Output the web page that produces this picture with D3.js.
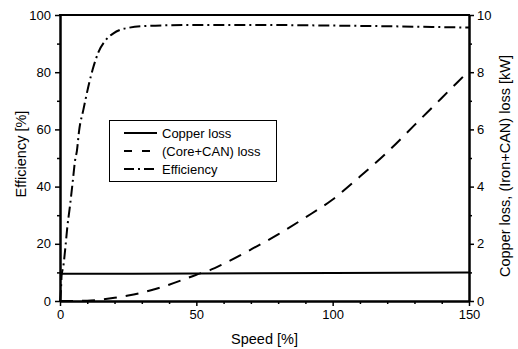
<!DOCTYPE html>
<html>
<head>
<meta charset="utf-8">
<script src="https://cdn.jsdelivr.net/npm/d3@7"></script>
<style>
  html, body { margin: 0; padding: 0; background: #fff; }
  svg { display: block; font-family: "Liberation Sans", Arial, sans-serif; }
</style>
</head>
<body>
<svg id="chart" width="518" height="349"></svg>
<script>
// ---- data ----
const speedTicks = [0, 50, 100, 150];
const speedMinorTicks = [10, 20, 30, 40, 60, 70, 80, 90, 110, 120, 130, 140];
const effTicks = [0, 20, 40, 60, 80, 100];
const effMinorTicks = [10, 30, 50, 70, 90];
const lossTicks = [0, 2, 4, 6, 8, 10];
const lossMinorTicks = [1, 3, 5, 7, 9];

const effSpeed = [0, 0.4, 0.6, 1.2, 2, 2.7, 3.5, 4.7, 5.5, 6.2, 7, 8.6, 10.4, 12, 14.1, 16.6, 19.6, 22, 25, 30, 40, 50, 60, 75, 100, 125, 150];
const effValue = [0, 5, 9, 12, 19, 26, 32, 42, 49, 52.5, 59.5, 67, 75, 81, 87, 91, 93.6, 94.8, 95.5, 96.1, 96.4, 96.5, 96.5, 96.5, 96.3, 96.0, 95.6];

const copperSpeed = [0, 50, 100, 150];
const copperLoss = [0.95, 0.96, 0.98, 1.0];

const coreSpeed = [0, 10, 15, 20, 25, 30, 35, 40, 45, 50, 55, 60, 70, 80, 90, 100, 110, 120, 130, 140, 150];
const coreLoss = [0, 0.01, 0.05, 0.11, 0.19, 0.29, 0.42, 0.57, 0.74, 0.92, 1.08, 1.3, 1.8, 2.33, 2.92, 3.55, 4.35, 5.2, 6.15, 7.1, 8.05];

const legendLabels = ["Copper loss", "(Core+CAN) loss", "Efficiency"];

// ---- layout ----
const svg = d3.select("#chart");
const L = 60, R = 469, T = 15, B = 301;

const x = d3.scaleLinear().domain([0, 150]).range([L, R]);
const yL = d3.scaleLinear().domain([0, 100]).range([B, T]);
const yR = d3.scaleLinear().domain([0, 10]).range([B, T]);

const styleAxis = g => {
  g.selectAll("path.domain").attr("stroke", "#000").attr("stroke-width", 2);
  g.selectAll(".tick line").attr("stroke", "#000").attr("stroke-width", 1.5);
  g.selectAll(".tick text").attr("fill", "#000").style("font-size", "13px")
    .style("font-family", '"Liberation Sans", Arial, sans-serif');
};

// minor ticks
svg.append("g").attr("transform", `translate(0,${B})`)
  .call(d3.axisBottom(x).tickValues(speedMinorTicks).tickSize(3).tickSizeOuter(0).tickFormat(""))
  .call(styleAxis);
svg.append("g").attr("transform", `translate(${L},0)`)
  .call(d3.axisLeft(yL).tickValues(effMinorTicks).tickSize(3).tickSizeOuter(0).tickFormat(""))
  .call(styleAxis);
svg.append("g").attr("transform", `translate(${R},0)`)
  .call(d3.axisRight(yR).tickValues(lossMinorTicks).tickSize(3).tickSizeOuter(0).tickFormat(""))
  .call(styleAxis);

// major axes
svg.append("g").attr("transform", `translate(0,${B})`)
  .call(d3.axisBottom(x).tickValues(speedTicks).tickSize(5).tickSizeOuter(0).tickPadding(4).tickFormat(d3.format("d")))
  .call(styleAxis);
svg.append("g").attr("transform", `translate(${L},0)`)
  .call(d3.axisLeft(yL).tickValues(effTicks).tickSize(5).tickSizeOuter(0).tickPadding(4).tickFormat(d3.format("d")))
  .call(styleAxis);
svg.append("g").attr("transform", `translate(${R},0)`)
  .call(d3.axisRight(yR).tickValues(lossTicks).tickSize(5).tickSizeOuter(0).tickPadding(3).tickFormat(d3.format("d")))
  .call(styleAxis);

// top border
svg.append("line").attr("x1", L - 1).attr("x2", R + 1).attr("y1", T).attr("y2", T)
  .attr("stroke", "#000").attr("stroke-width", 2);

// ---- curves ----
const copperData = copperSpeed.map((s, i) => [s, copperLoss[i]]);
const coreData = coreSpeed.map((s, i) => [s, coreLoss[i]]);
const effData = effSpeed.map((s, i) => [s, effValue[i]]);

const lineR = d3.line().x(d => x(d[0])).y(d => yR(d[1])).curve(d3.curveMonotoneX);
const lineL = d3.line().x(d => x(d[0])).y(d => yL(d[1])).curve(d3.curveMonotoneX);

svg.append("path").datum(copperData).attr("d", lineR)
  .attr("fill", "none").attr("stroke", "#000").attr("stroke-width", 2);
svg.append("path").datum(coreData).attr("d", lineR)
  .attr("fill", "none").attr("stroke", "#000").attr("stroke-width", 2)
  .attr("stroke-dasharray", "13,9");
svg.append("path").datum(effData).attr("d", lineL)
  .attr("fill", "none").attr("stroke", "#000").attr("stroke-width", 2)
  .attr("stroke-dasharray", "11,4,2,4");

// ---- axis titles ----
const titleFont = "14.5px";
svg.append("text").attr("x", (L + R) / 2).attr("y", 344).attr("text-anchor", "middle")
  .style("font-size", titleFont).text("Speed [%]");
svg.append("text").attr("transform", "translate(26,154) rotate(-90)").attr("text-anchor", "middle")
  .style("font-size", titleFont).text("Efficiency [%]");
svg.append("text").attr("transform", "translate(510,166) rotate(-90)").attr("text-anchor", "middle")
  .style("font-size", titleFont).text("Copper loss, (Iron+CAN) loss [kW]");

// ---- legend ----
const lg = svg.append("g");
lg.append("rect").attr("x", 109.5).attr("y", 120.5).attr("width", 167).attr("height", 61)
  .attr("fill", "#fff").attr("stroke", "#000").attr("stroke-width", 1);
const rowY = [133, 151, 169];
const dashes = [null, "8,10", "10,4,2,4"];
legendLabels.forEach((lab, i) => {
  lg.append("line").attr("x1", 124).attr("x2", 157).attr("y1", rowY[i]).attr("y2", rowY[i])
    .attr("stroke", "#000").attr("stroke-width", 2)
    .attr("stroke-dasharray", dashes[i]);
  lg.append("text").attr("x", 162).attr("y", rowY[i]).attr("dy", "0.35em")
    .style("font-size", "13px").text(lab);
});
</script>
</body>
</html>
